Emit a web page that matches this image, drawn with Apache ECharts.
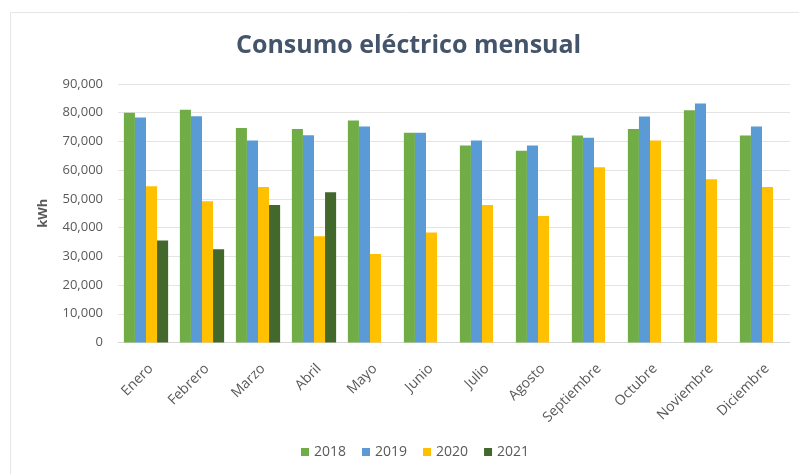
<!DOCTYPE html>
<html>
<head>
<meta charset="utf-8">
<script src="https://cdn.jsdelivr.net/npm/echarts@6/dist/echarts.min.js"></script>
<style>html,body{margin:0;padding:0;background:#fff}#c{width:799px;height:474px}</style>
</head>
<body>
<div id="c"></div>
<script>
var months = ['Enero','Febrero','Marzo','Abril','Mayo','Junio','Julio','Agosto','Septiembre','Octubre','Noviembre','Diciembre'];
var years = ['2018','2019','2020','2021'];
var v2018 = [80000, 81000, 74700, 74300, 77300, 73000, 68600, 66800, 72100, 74300, 80900, 72100];
var v2019 = [78300, 78800, 70300, 72200, 75200, 73000, 70300, 68600, 71300, 78700, 83200, 75200];
var v2020 = [54400, 49200, 54100, 37000, 30800, 38300, 47900, 44000, 61000, 70300, 56800, 54100];
var v2021 = [35500, 32500, 47900, 52300, null, null, null, null, null, null, null, null];
var yTicks = [0, 10000, 20000, 30000, 40000, 50000, 60000, 70000, 80000, 90000];
var colors = ['#70AD47', '#5B9BD5', '#FFC000', '#43682B'];
var seriesData = [v2018, v2019, v2020, v2021];

var chart = echarts.init(document.getElementById('c'), null, {renderer: 'canvas'});
var font = "'Open Sans', 'Noto Sans', sans-serif";
chart.setOption({
  animation: false,
  backgroundColor: '#fff',
  color: colors,
  graphic: [{
    type: 'rect', left: 8, top: 10, silent: true,
    shape: {width: 800, height: 463},
    style: {fill: 'none', stroke: '#E6E6E6', lineWidth: 1}
  }],
  title: {
    text: 'Consumo eléctrico mensual',
    left: 231, top: 28,
    textStyle: {fontFamily: "'Liberation Sans Narrow', 'Open Sans', sans-serif", fontSize: 25, fontWeight: 'bold', color: '#44546A'}
  },
  legend: {
    bottom: 10, left: 296,
    itemWidth: 8, itemHeight: 8, itemGap: 16,
    icon: 'rect',
    textStyle: {fontFamily: font, fontSize: 14, color: '#595959'},
    data: years
  },
  grid: {left: 118, right: 9, top: 84, bottom: 131.5, containLabel: false},
  xAxis: {
    type: 'category',
    data: months,
    axisLine: {lineStyle: {color: '#D9D9D9'}},
    axisTick: {show: false},
    axisLabel: {rotate: 45, verticalAlign: 'top', fontFamily: font, fontSize: 14, color: '#595959', margin: 19, interval: 0}
  },
  yAxis: {
    type: 'value', min: yTicks[0], max: yTicks[yTicks.length - 1], interval: 10000,
    name: 'kWh', nameLocation: 'middle', nameGap: 68, nameRotate: 90,
    nameTextStyle: {fontFamily: font, fontSize: 13, fontWeight: 'bold', color: '#595959'},
    axisLine: {show: false}, axisTick: {show: false},
    splitLine: {lineStyle: {color: '#E4E4E4'}},
    axisLabel: {fontFamily: font, fontSize: 13, color: '#595959', margin: 15,
      formatter: function (v) { return v.toLocaleString('en-US'); }}
  },
  series: years.map(function (y, i) {
    return {name: y, type: 'bar', data: seriesData[i], barGap: '0%', barCategoryGap: '21%',
      itemStyle: {color: colors[i]}};
  })
});
</script>
</body>
</html>
